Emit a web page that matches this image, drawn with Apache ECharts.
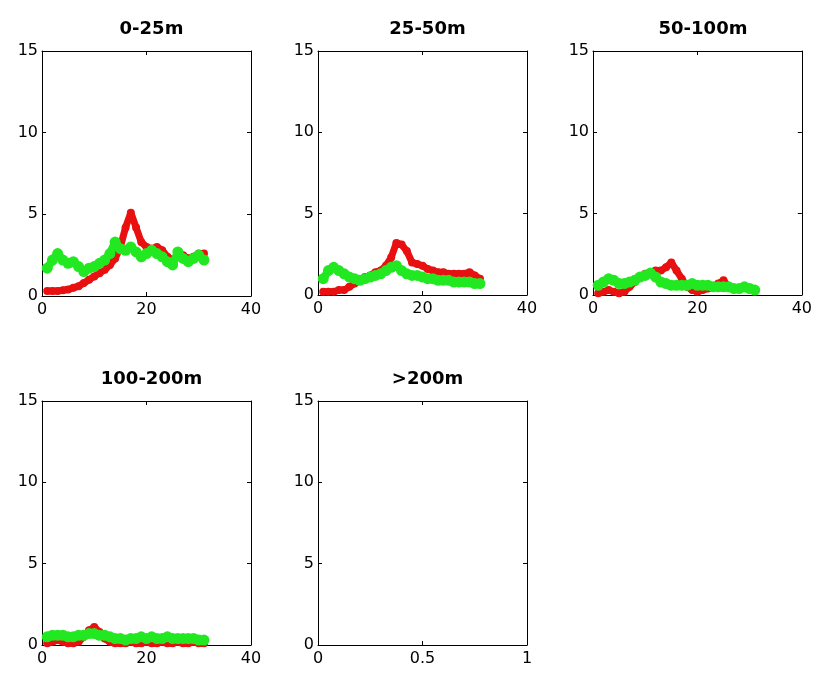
<!DOCTYPE html>
<html>
<head>
<meta charset="utf-8">
<script src="https://cdn.jsdelivr.net/npm/echarts@6/dist/echarts.min.js"></script>
<style>
  html, body { margin: 0; padding: 0; background: #fff; }
  #chart { width: 815px; height: 673px; }
</style>
</head>
<body>
<div id="chart"></div>
<script>
// panel titles
const panelTitles = ['0-25m', '25-50m', '50-100m', '100-200m', '>200m']

// x values (same for every panel)
const days = [1, 2, 3, 4, 5, 6, 7, 8, 9, 10, 11, 12, 13, 14, 15, 16, 17, 18, 19, 20, 21, 22, 23, 24, 25, 26, 27, 28, 29, 30, 31]

// red series, per panel
const red0_25 = [0.3, 0.3, 0.3, 0.35, 0.4, 0.5, 0.6, 0.8, 1.0, 1.2, 1.4, 1.6, 1.9, 2.3, 3.0, 4.2, 5.1, 4.2, 3.3, 3.0, 2.9, 3.0, 2.8, 2.4, 2.2, 2.4, 2.5, 2.3, 2.4, 2.6, 2.6]
const red25_50 = [0.2, 0.2, 0.2, 0.3, 0.3, 0.5, 0.7, 0.9, 1.1, 1.2, 1.4, 1.5, 1.8, 2.3, 3.2, 3.1, 2.7, 2.0, 1.9, 1.8, 1.6, 1.5, 1.4, 1.4, 1.3, 1.3, 1.3, 1.3, 1.4, 1.2, 1.0]
const red50_100 = [0.1, 0.2, 0.3, 0.2, 0.1, 0.2, 0.5, 0.8, 1.1, 1.3, 1.4, 1.5, 1.5, 1.7, 2.0, 1.5, 1.0, 0.5, 0.3, 0.2, 0.3, 0.4, 0.5, 0.7, 0.9, 0.5, 0.4, 0.4, 0.5, 0.4, 0.3]
const red100_200 = [0.1, 0.2, 0.3, 0.2, 0.1, 0.1, 0.2, 0.5, 0.9, 1.1, 0.8, 0.4, 0.2, 0.1, 0.1, 0.1, 0.2, 0.1, 0.1, 0.2, 0.1, 0.1, 0.2, 0.1, 0.1, 0.2, 0.1, 0.1, 0.2, 0.1, 0.1]

// green series, per panel
const green0_25 = [1.7, 2.2, 2.6, 2.2, 2.0, 2.1, 1.8, 1.5, 1.7, 1.8, 2.0, 2.2, 2.6, 3.3, 2.9, 2.8, 3.0, 2.7, 2.4, 2.6, 2.8, 2.6, 2.4, 2.1, 1.9, 2.7, 2.3, 2.1, 2.3, 2.5, 2.2]
const green25_50 = [1.0, 1.5, 1.7, 1.5, 1.3, 1.1, 1.0, 0.9, 1.0, 1.1, 1.2, 1.3, 1.5, 1.7, 1.8, 1.5, 1.3, 1.2, 1.2, 1.1, 1.0, 1.0, 0.9, 0.9, 0.9, 0.8, 0.8, 0.8, 0.8, 0.7, 0.7]
const green50_100 = [0.6, 0.8, 1.0, 0.9, 0.7, 0.7, 0.8, 0.9, 1.1, 1.2, 1.35, 1.1, 0.8, 0.7, 0.6, 0.6, 0.6, 0.6, 0.7, 0.6, 0.6, 0.6, 0.5, 0.5, 0.5, 0.5, 0.4, 0.4, 0.5, 0.4, 0.3]
const green100_200 = [0.5, 0.6, 0.6, 0.6, 0.5, 0.5, 0.6, 0.6, 0.7, 0.7, 0.6, 0.6, 0.5, 0.4, 0.4, 0.3, 0.4, 0.4, 0.5, 0.4, 0.5, 0.4, 0.4, 0.5, 0.4, 0.4, 0.4, 0.4, 0.4, 0.3, 0.3]

const redSets = [red0_25, red25_50, red50_100, red100_200, []]
const greenSets = [green0_25, green25_50, green50_100, green100_200, []]

// axis ranges
const yTicks = [0, 5, 10, 15]
const xMaxes = [40, 40, 40, 40, 1]
const xSteps = [20, 20, 20, 20, 0.5]

// panel boxes in pixels
const boxes = [
  { left: 42, top: 51, width: 209, height: 245 },
  { left: 318, top: 51, width: 209, height: 244 },
  { left: 593, top: 51, width: 210, height: 244 },
  { left: 42, top: 401, width: 209, height: 244 },
  { left: 318, top: 401, width: 209, height: 244 },
]

const FONT = 'DejaVu Sans'
const zip = (xs, ys) => ys.map((y, i) => [xs[i], y])

const grid = []
const xAxis = []
const yAxis = []
const series = []
const title = []

boxes.forEach((b, i) => {
  grid.push({ ...b, containLabel: false })

  title.push({
    text: panelTitles[i],
    left: b.left + b.width / 2,
    top: b.top - 36,
    textAlign: 'center',
    textStyle: { fontFamily: FONT, fontSize: 18, fontWeight: 'bold', color: '#000' },
  })

  const line = { show: true, onZero: false, lineStyle: { color: '#000', width: 1 } }
  const tick = { show: true, inside: true, length: 4, lineStyle: { color: '#000' } }
  const label = { color: '#000', fontFamily: FONT, fontSize: 16 }

  // bottom and top x axes
  xAxis.push({
    type: 'value', gridIndex: i, position: 'bottom',
    min: 0, max: xMaxes[i], interval: xSteps[i],
    axisLine: line, axisTick: tick, splitLine: { show: false },
    axisLabel: { ...label, margin: 6 },
  })
  xAxis.push({
    type: 'value', gridIndex: i, position: 'top',
    min: 0, max: xMaxes[i], interval: xSteps[i],
    axisLine: line, axisTick: tick, splitLine: { show: false },
    axisLabel: { show: false },
  })
  // left and right y axes
  yAxis.push({
    type: 'value', gridIndex: i, position: 'left',
    min: yTicks[0], max: yTicks[yTicks.length - 1], interval: 5,
    axisLine: line, axisTick: tick, splitLine: { show: false },
    axisLabel: { ...label, margin: 4 },
  })
  yAxis.push({
    type: 'value', gridIndex: i, position: 'right',
    min: yTicks[0], max: yTicks[yTicks.length - 1], interval: 5,
    axisLine: line, axisTick: tick, splitLine: { show: false },
    axisLabel: { show: false },
  })

  if (redSets[i].length) {
    series.push({
      type: 'line', xAxisIndex: i * 2, yAxisIndex: i * 2,
      data: zip(days, redSets[i]),
      symbol: 'circle', symbolSize: 8, showSymbol: true,
      lineStyle: { color: '#e81010', width: 7 },
      itemStyle: { color: '#e81010' },
      animation: false, silent: true, z: 2,
    })
  }
  if (greenSets[i].length) {
    series.push({
      type: 'line', xAxisIndex: i * 2, yAxisIndex: i * 2,
      data: zip(days, greenSets[i]),
      symbol: 'circle', symbolSize: 11, showSymbol: true,
      lineStyle: { color: '#22e822', width: 8 },
      itemStyle: { color: '#22e822' },
      animation: false, silent: true, z: 3,
    })
  }
})

const myChart = echarts.init(document.getElementById('chart'))
myChart.setOption({
  backgroundColor: '#fff',
  animation: false,
  title,
  grid,
  xAxis,
  yAxis,
  series,
})
</script>
</body>
</html>
